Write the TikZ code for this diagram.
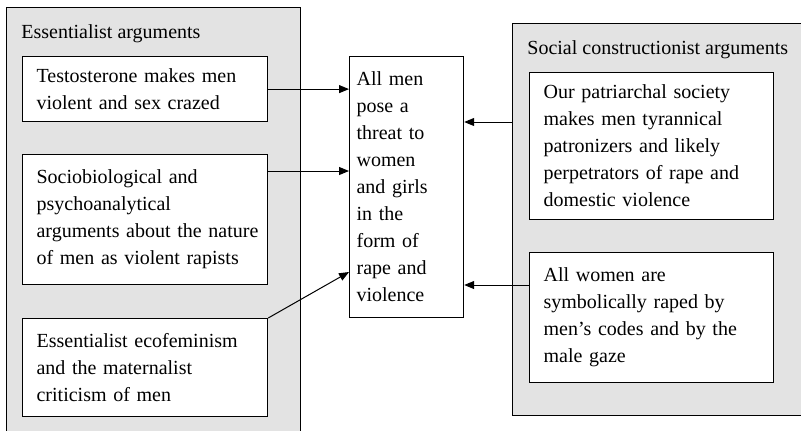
\documentclass[tikz,border=0pt]{standalone}
\usepackage{fontspec}
\setmainfont{Liberation Serif}
\usetikzlibrary{arrows.meta}
\definecolor{panelgray}{RGB}{227,227,227}

\begin{document}
\begin{tikzpicture}[x=0.5pt,y=-0.5pt]
		\begin{scope}
		
		\tikzstyle{mypanel}=[rectangle,
		draw=black,
		fill=panelgray,
		line width=0.6pt,
		anchor=north west,
		inner sep=0pt
		]
		\tikzstyle{mybox}=[rectangle,
		draw=black,
		fill=white,
		line width=0.6pt,
		anchor=north west,
		align=left,
		inner xsep=7pt,
		inner ysep=0pt,
		font=\fontsize{10}{13.5}\selectfont
		]
		\tikzstyle{myarrow}=[-{Triangle[length=5pt,width=4pt]},
		line width=0.5pt
		]
		
		\useasboundingbox (0,0) rectangle (801,430);
		
		\coordinate (pp1) at (6, 7);
		\coordinate (pp2) at (512, 23);
		
		\coordinate (pb1) at (22, 56);
		\coordinate (pb2) at (22, 154);
		\coordinate (pb3) at (22, 318);
		\coordinate (pb4) at (529, 72);
		\coordinate (pb5) at (529, 252);
		\coordinate (pc) at (349, 56);
		
		\coordinate (t2) at (0, 171);
		\coordinate (t3) at (0, 272);
		\coordinate (t4) at (0, 122);
		\coordinate (t5) at (0, 285);
		
		% grey panels with their titles
		\node[mypanel, minimum width=147pt, minimum height=220pt] (ess) at (pp1) {};
		\node[mypanel, minimum width=150pt, minimum height=196pt] (soc) at (pp2) {};
		\node[anchor=base west, inner sep=0pt, font=\fontsize{10}{12}\selectfont] (esstitle) at (21, 38) {Essentialist arguments};
		\node[anchor=base west, inner sep=0pt, font=\fontsize{10}{12}\selectfont] (soctitle) at (527, 54) {Social constructionist arguments};
		
		\node[mybox, text width=108.5pt, minimum height=32.5pt] (x1) at (pb1) {Testosterone makes men\\violent and sex crazed};
		\node[mybox, text width=108.5pt, minimum height=65pt] (x2) at (pb2) {Sociobiological and\\psychoanalytical\\\mbox{arguments about the nature}\\of men as violent rapists};
		\node[mybox, text width=108.5pt, minimum height=49pt] (x3) at (pb3) {Essentialist ecofeminism\\and the maternalist\\criticism of men};
		\node[mybox, text width=108pt, minimum height=73.5pt] (x4) at (pb4) {Our patriarchal society\\makes men tyrannical\\patronizers and likely\\perpetrators of rape and\\domestic violence};
		\node[mybox, text width=108pt, minimum height=65pt] (x5) at (pb5) {All women are\\symbolically raped by\\men’s codes and by the\\male gaze};
		\node[mybox, inner xsep=3.5pt, text width=50pt, minimum height=130.5pt] (c) at (pc) {All men\\pose a\\threat to\\women\\and girls\\in the\\form of\\rape and\\violence};
		
		\draw[myarrow] (x1.east) -- (c.west |- x1.east);
		\draw[myarrow] (x2.east |- t2) -- (c.west |- t2);
		\draw[myarrow] (x3.north east) -- (c.west |- t3);
		\draw[myarrow] (soc.west |- t4) -- (c.east |- t4);
		\draw[myarrow] (x5.west |- t5) -- (c.east |- t5);
		
		\end{scope}
\end{tikzpicture}
\end{document}
